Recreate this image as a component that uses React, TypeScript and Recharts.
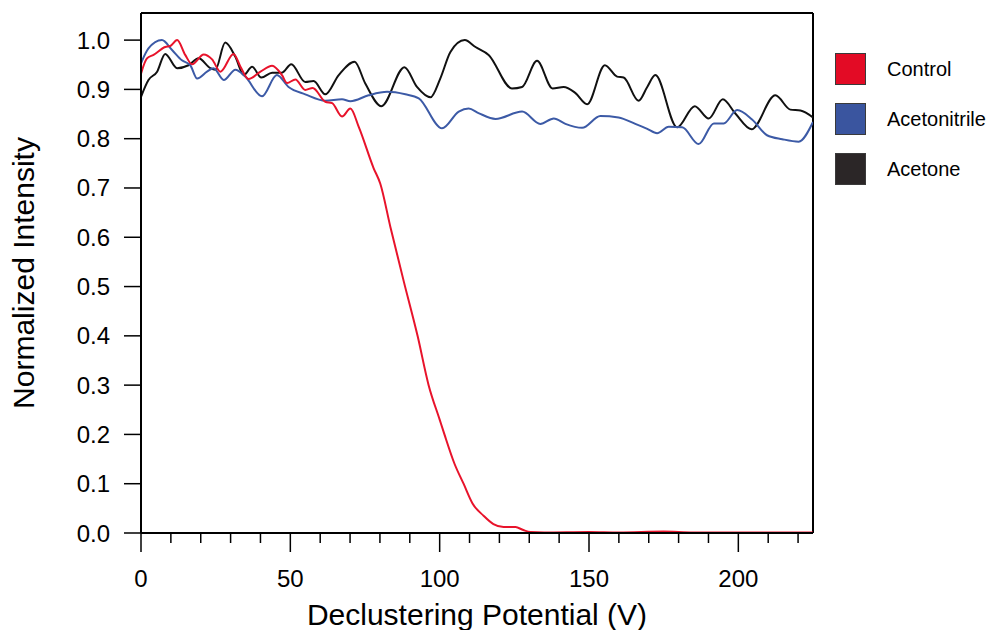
import { LineChart, Line, XAxis, YAxis, ReferenceLine } from "recharts"

const seriesNames = ["Control", "Acetonitrile", "Acetone"]
const seriesColors = ["#e8132b", "#3c5aa6", "#111111"]
const legendColors = ["#e30b25", "#3a559f", "#2b2627"]

const controlV = [0, 2, 4.2, 8.1, 9.8, 12.1, 14.8, 17.1, 21, 23.8, 26.6, 31, 33.3, 36, 40, 43.9, 47.2, 48.9, 51.7, 55, 57.5, 61.7, 64, 67.3, 70.1, 72.9, 77.9, 80.1, 83.5, 88, 92.6, 96.3, 100, 101.6, 105, 108, 111, 114.7, 118, 121.4, 125.4, 128, 130.4, 135, 150, 160, 175, 185, 200, 225]
const controlI = [0.932, 0.963, 0.97, 0.986, 0.988, 1.0, 0.97, 0.951, 0.971, 0.961, 0.936, 0.972, 0.946, 0.921, 0.936, 0.948, 0.929, 0.913, 0.92, 0.899, 0.903, 0.875, 0.872, 0.845, 0.861, 0.824, 0.74, 0.709, 0.621, 0.51, 0.4, 0.3, 0.23, 0.2, 0.14, 0.1, 0.06, 0.035, 0.018, 0.012, 0.012, 0.006, 0.002, 0.001, 0.002, 0.001, 0.003, 0.001, 0.001, 0.001]

const acnV = [0, 2.5, 7, 10.4, 13.7, 16.5, 18.8, 22.1, 24.3, 27.7, 31.6, 34.9, 40.5, 45.5, 49.4, 55, 61.7, 67.3, 70.1, 76.2, 82.4, 88.5, 93, 100.8, 106.4, 109.7, 113, 118.7, 127.6, 133.7, 138.2, 142.1, 147.7, 153.8, 159.9, 165.5, 169.5, 172.8, 176.7, 181.2, 186.7, 191.8, 195.1, 199.6, 204.6, 209.6, 214.7, 220.2, 225]
const acnI = [0.953, 0.983, 1.0, 0.98, 0.959, 0.949, 0.922, 0.936, 0.943, 0.919, 0.94, 0.926, 0.886, 0.929, 0.905, 0.89, 0.877, 0.88, 0.876, 0.888, 0.895, 0.89, 0.882, 0.821, 0.855, 0.861, 0.852, 0.84, 0.855, 0.83, 0.841, 0.83, 0.822, 0.846, 0.843, 0.83, 0.82, 0.811, 0.824, 0.823, 0.789, 0.831, 0.831, 0.858, 0.839, 0.807, 0.799, 0.794, 0.834]

const acetoneV = [0, 2.5, 5.4, 8.1, 12.1, 15.9, 19.3, 23.2, 24.9, 28.2, 31.6, 34.4, 37.2, 40.3, 43.9, 47.2, 50.3, 55, 57.8, 61.7, 66.2, 71.5, 75.1, 80.5, 88.2, 92.4, 96.9, 100.2, 103.6, 108.4, 112, 116.4, 124.2, 127.6, 132.6, 137.8, 141.5, 145.4, 149.4, 155.3, 159.4, 161.6, 166.6, 169.5, 172.2, 179.5, 185.4, 190.1, 194.8, 199, 204.4, 212.4, 217.4, 220.8, 225]
const acetoneI = [0.885, 0.919, 0.936, 0.972, 0.943, 0.949, 0.963, 0.943, 0.94, 0.995, 0.966, 0.929, 0.946, 0.924, 0.934, 0.934, 0.951, 0.915, 0.917, 0.89, 0.929, 0.956, 0.912, 0.866, 0.945, 0.905, 0.884, 0.922, 0.976, 1.0, 0.986, 0.97, 0.902, 0.905, 0.958, 0.902, 0.905, 0.893, 0.87, 0.949, 0.926, 0.924, 0.877, 0.905, 0.929, 0.823, 0.866, 0.841, 0.88, 0.851, 0.819, 0.888, 0.859, 0.857, 0.843]

const xTicks = [0, 10, 20, 30, 40, 50, 60, 70, 80, 90, 100, 110, 120, 130, 140, 150, 160, 170, 180, 190, 200, 210, 220]
const yTicks = [0, 0.1, 0.2, 0.3, 0.4, 0.5, 0.6, 0.7, 0.8, 0.9, 1.0]

const X_MAX = 225
const Y_MAX = 1.055
const FONT = "'Liberation Sans', Arial, Helvetica, sans-serif"

const toPoints = (v: number[], i: number[]) => v.map((x, k) => ({ v: x, i: i[k] }))

const series = [
  toPoints(controlV, controlI),
  toPoints(acnV, acnI),
  toPoints(acetoneV, acetoneI),
]

function XTick(props: any) {
  const { x, y, payload } = props
  const major = payload.value % 50 === 0
  return (
    <g>
      <line x1={x} x2={x} y1={y} y2={y + (major ? 19 : 10)} stroke="#000" strokeWidth={1.5} />
      {major && (
        <text x={x} y={y + 37} dy="0.71em" textAnchor="middle" fontSize={24} fill="#000" fontFamily={FONT}>
          {payload.value}
        </text>
      )}
    </g>
  )
}

function XTitle(props: any) {
  const vb = props.viewBox || { x: 141, width: 672 }
  return (
    <text x={vb.x + vb.width / 2} y={625} textAnchor="middle" fontSize={30} fill="#000" fontFamily={FONT}>
      Declustering Potential (V)
    </text>
  )
}

function YTitle(props: any) {
  const vb = props.viewBox || { y: 13, height: 520 }
  const cy = vb.y + vb.height / 2
  return (
    <text x={34} y={cy} transform={`rotate(-90, 34, ${cy})`} textAnchor="middle" fontSize={30} fill="#000" fontFamily={FONT}>
      Normalized Intensity
    </text>
  )
}

export default function App() {
  return (
    <div style={{ position: "absolute", left: 0, top: 0, width: 986, height: 630, background: "#fff", fontFamily: FONT }}>
      <LineChart width={986} height={630} margin={{ top: 13, right: 173, bottom: 0, left: 0 }}>
        <XAxis
          type="number"
          dataKey="v"
          domain={[0, X_MAX]}
          ticks={xTicks}
          interval={0}
          height={97}
          tickSize={0}
          tickMargin={0}
          tickLine={false}
          tick={<XTick />}
          axisLine={{ stroke: "#000", strokeWidth: 2 }}
          allowDataOverflow
          label={{ content: <XTitle /> }}
        />
        <YAxis
          type="number"
          dataKey="i"
          domain={[0, Y_MAX]}
          ticks={yTicks}
          interval={0}
          width={141}
          tickSize={17}
          tickMargin={14}
          tickFormatter={(t: number) => t.toFixed(1)}
          tick={{ fontSize: 24, fill: "#000", fontFamily: FONT }}
          tickLine={{ stroke: "#000", strokeWidth: 1.5 }}
          axisLine={{ stroke: "#000", strokeWidth: 2 }}
          allowDataOverflow
          label={{ content: <YTitle /> }}
        />
        <ReferenceLine y={Y_MAX} stroke="#000" strokeWidth={2} />
        <ReferenceLine x={X_MAX} stroke="#000" strokeWidth={2} />
        <Line data={series[2]} dataKey="i" name={seriesNames[2]} type="monotone" stroke={seriesColors[2]} strokeWidth={2} dot={false} isAnimationActive={false} />
        <Line data={series[1]} dataKey="i" name={seriesNames[1]} type="monotone" stroke={seriesColors[1]} strokeWidth={2} dot={false} isAnimationActive={false} />
        <Line data={series[0]} dataKey="i" name={seriesNames[0]} type="monotone" stroke={seriesColors[0]} strokeWidth={2} dot={false} isAnimationActive={false} />
      </LineChart>
      <div style={{ position: "absolute", left: 835, top: 53 }}>
        {seriesNames.map((name, k) => (
          <div key={name} style={{ display: "flex", alignItems: "center", height: 32, marginBottom: 18 }}>
            <div style={{ width: 29, height: 30, background: legendColors[k], border: "1.5px solid #3a3a3a" }} />
            <span style={{ marginLeft: 21, fontSize: 20, color: "#000" }}>{name}</span>
          </div>
        ))}
      </div>
    </div>
  )
}
